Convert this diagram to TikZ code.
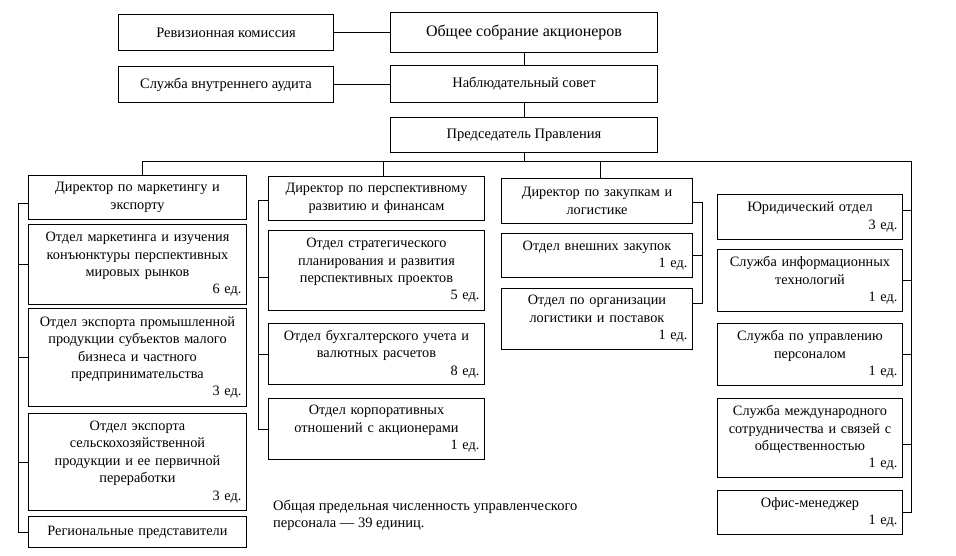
\documentclass[tikz,border=0pt]{standalone}
\usepackage{fontspec}
\setmainfont{Liberation Serif}
\newcommand\edn[1]{\\\makebox[\hsize][r]{#1 ед.}}
\begin{document}
\begin{tikzpicture}[x=1pt,y=-1pt,
  box/.style={draw, line width=1pt, anchor=north west, align=center,
    inner xsep=5pt, inner ysep=2pt, font=\fontsize{14.3}{17.4}\selectfont},
  topbox/.style={box, font=\fontsize{14.5}{17.4}\selectfont},
  ln/.style={line width=1pt},
  note/.style={anchor=north west, align=left, inner sep=0pt, font=\fontsize{14.5}{17.4}\selectfont}]
\useasboundingbox[fill=white] (0,0) rectangle (956,556);
% top
\node[topbox, minimum width=215pt, minimum height=36pt] (rev) at (118,14) {Ревизионная комиссия};
\node[topbox, minimum width=267pt, minimum height=40pt, font=\fontsize{16}{18}\selectfont] (obs) at (390,12) {Общее собрание акционеров};
\node[topbox, minimum width=215pt, minimum height=36pt] (aud) at (118,66) {Служба внутреннего аудита};
\node[topbox, minimum width=267pt, minimum height=37pt] (nab) at (390,65) {Наблюдательный совет};
\node[topbox, minimum width=267pt, minimum height=35pt] (pred) at (390,117) {Председатель Правления};
% column 1
\node[box, text width=208pt, minimum height=44pt] (d1) at (28,175) {Директор по маркетингу и\\экспорту};
\node[box, text width=208pt, minimum height=80pt] (m1) at (28,224) {Отдел маркетинга и изучения\\конъюнктуры перспективных\\мировых рынков\edn{6}};
\node[box, text width=208pt, minimum height=98pt] (m2) at (28,308) {Отдел экспорта промышленной\\продукции субъектов малого\\бизнеса и частного\\предпринимательства\edn{3}};
\node[box, text width=208pt, minimum height=97pt] (m3) at (28,413) {Отдел экспорта\\сельскохозяйственной\\продукции и ее первичной\\переработки\edn{3}};
\node[box, text width=208pt, minimum height=31pt] (reg) at (28,516) {Региональные представители};
% column 2
\node[box, text width=206pt, minimum height=44pt] (d2) at (268,176) {Директор по перспективному\\развитию и финансам};
\node[box, text width=206pt, minimum height=80pt] (f1) at (268,230) {Отдел стратегического\\планирования и развития\\перспективных проектов\edn{5}};
\node[box, text width=206pt, minimum height=61pt] (f2) at (268,323) {Отдел бухгалтерского учета и\\валютных расчетов\edn{8}};
\node[box, text width=206pt, minimum height=61pt] (f3) at (268,398) {Отдел корпоративных\\отношений с акционерами\edn{1}};
% column 3
\node[box, text width=181pt, minimum height=45pt] (d3) at (501,178) {Директор по закупкам и\\логистике};
\node[box, text width=181pt, minimum height=44pt] (z1) at (501,233) {Отдел внешних закупок\edn{1}};
\node[box, text width=181pt, minimum height=61pt] (z2) at (501,288) {Отдел по организации\\логистики и поставок\edn{1}};
% column 4
\node[box, text width=175pt, minimum height=45pt] (j1) at (717,194) {Юридический отдел\edn{3}};
\node[box, text width=175pt, minimum height=62pt] (j2) at (717,249) {Служба информационных\\технологий\edn{1}};
\node[box, text width=175pt, minimum height=62pt] (j3) at (717,323) {Служба по управлению\\персоналом\edn{1}};
\node[box, text width=175pt, minimum height=79pt] (j4) at (717,398) {Служба международного\\сотрудничества и связей с\\общественностью\edn{1}};
\node[box, text width=175pt, minimum height=44pt] (j5) at (717,490) {Офис-менеджер\edn{1}};
% footer
\node[note] (tot) at (273,500) {Общая предельная численность управленческого\\персонала — 39 единиц.};
% connectors
\coordinate (busR) at (911,162);
\coordinate (L1) at (18,0);
\coordinate (L2) at (258,0);
\coordinate (R3) at (702,0);
\draw[ln] (rev) -- (obs);
\draw[ln] (aud.east) -- (aud.east -| nab.west);
\draw[ln] (obs) -- (nab);
\draw[ln] (nab) -- (pred);
\draw[ln] (pred.south) -- (pred.south |- busR);
\draw[ln] ([xshift=5pt]d1.north) |- (busR) |- (j5.east);
\draw[ln] ([xshift=7pt]d2.north) -- ([xshift=7pt]d2.north |- busR);
\draw[ln] ([xshift=3pt]d3.north) -- ([xshift=3pt]d3.north |- busR);
% column 1 links
\draw[ln] ([yshift=-6pt]d1.west) -- ([yshift=-6pt]d1.west -| L1) |- (reg.west);
\foreach \n in {m1,m2,m3} \draw[ln] (\n.west) -- (\n.west -| L1);
% column 2 links
\draw[ln] ([yshift=-2pt]d2.west) -- ([yshift=-2pt]d2.west -| L2) |- (f3.west);
\draw[ln] ([yshift=-7pt]f1.west) -- ([yshift=-7pt]f1.west -| L2);
\draw[ln] (f2.west) -- (f2.west -| L2);
% column 3 links
\draw[ln] ([yshift=-2pt]d3.east) -- ([yshift=-2pt]d3.east -| R3) |- ([yshift=16pt]z2.east);
\draw[ln] (z1.east) -- (z1.east -| R3);
% column 4 links
\draw[ln] ([yshift=6pt]j1.east) -- ([yshift=6pt]j1.east -| busR);
\draw[ln] (j2.east) -- (j2.east -| busR);
\draw[ln] (j3.east) -- (j3.east -| busR);
\draw[ln] ([yshift=-6pt]j4.east) -- ([yshift=-6pt]j4.east -| busR);
\end{tikzpicture}
\end{document}
